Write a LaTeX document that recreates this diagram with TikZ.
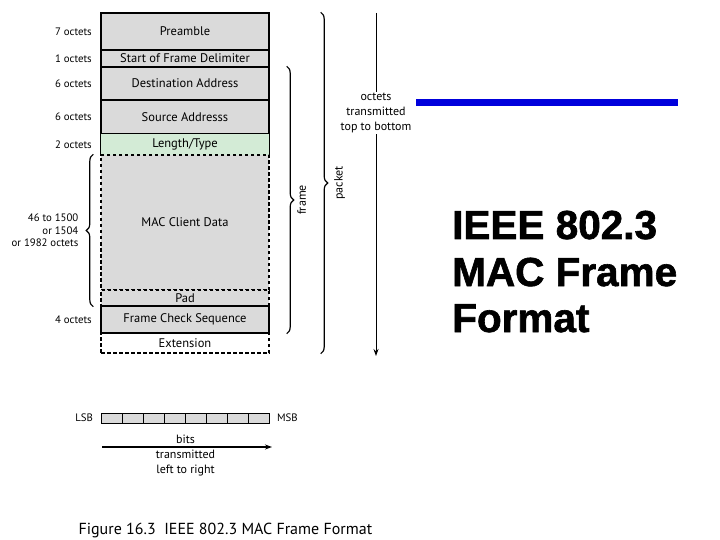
\documentclass[tikz,border=0pt]{standalone}
\usepackage{fontspec}
\setmainfont{PT Sans}
\newfontfamily\titlefont{Liberation Sans Bold}[FakeBold=1.5]
\usetikzlibrary{positioning,decorations.pathreplacing,arrows.meta}
\definecolor{fieldgray}{RGB}{218,218,218}
\definecolor{fieldgreen}{RGB}{211,235,214}
\definecolor{titleblue}{RGB}{0,0,220}
\begin{document}
\begin{tikzpicture}[x=1pt, y=-1pt,
  field/.style={draw, line width=1.4pt, fill=fieldgray, minimum width=168pt, inner sep=0pt, font=\fontsize{12.5}{14}\selectfont},
  dfield/.style={field, dash pattern=on 3.5pt off 2.5pt},
  octs/.style={font=\fontsize{10.8}{12.5}\selectfont, align=right},
  brc/.style={decorate, decoration={brace, amplitude=7pt}, line width=1.2pt},
  lbl/.style={font=\fontsize{12}{15}\selectfont, align=center, inner sep=1pt},
  bitcell/.style={draw, line width=1pt, fill=fieldgray, minimum width=21pt, minimum height=10pt, inner sep=0pt}]
\useasboundingbox[fill=white] (0,0) rectangle (720,540);

% frame fields
\node[field, minimum height=37pt] (pre) at (185,31.5) {Preamble};
\node[field, minimum height=17pt] (sfd) at (185,58.5) {Start of Frame Delimiter};
\node[field, minimum height=33pt] (da) at (185,83.5) {Destination Address};
\node[field, minimum height=34pt] (sa) at (185,117) {Source Addresss};
\node[field, draw=none, fill=fieldgreen, minimum height=21pt] (lt) at (185,144.5) {Length/Type};
\draw[line width=1.4pt] (lt.south west) -- (lt.north west) (lt.north east) -- (lt.south east);
\node[dfield, minimum height=135pt] (mcd) at (185,222.5) {MAC Client Data};
\node[dfield, minimum height=16pt] (pad) at (185,298) {Pad};
\node[field, minimum height=27pt] (fcs) at (185,319.5) {Frame Check Sequence};
\node[dfield, fill=none, minimum height=20pt] (ext) at (185,343) {Extension};

% octet counts
\node[octs, left=5pt of pre] (npre) {7 octets};
\node[octs, left=5pt of sfd] (nsfd) {1 octets};
\node[octs, left=5pt of da] (nda) {6 octets};
\node[octs, left=5pt of sa] (nsa) {6 octets};
\node[octs, left=5pt of lt] (nlt) {2 octets};
\node[octs, left=5pt of fcs] (nfcs) {4 octets};

% braces
\draw[brc] ([xshift=-7pt]pad.south west) -- ([xshift=-7pt]mcd.north west) node[midway, octs, anchor=east, xshift=-11pt] (ndata) {46 to 1500\\or 1504\\or 1982 octets};
\draw[brc] ([xshift=17pt]da.north east) -- ([xshift=17pt]fcs.south east) node[midway, lbl, rotate=90, anchor=north, yshift=-9pt] (frm) {frame};
\draw[brc] ([xshift=51pt]pre.north east) -- ([xshift=51pt]ext.south east) node[midway, lbl, rotate=90, anchor=north, yshift=-12pt] (pkt) {packet};

% transmission order
\coordinate (ttop) at (376,13);
\coordinate (tbot) at (376,356);
\node[lbl, fill=white] (tord) at (376,113) {octets\\transmitted\\top to bottom};
\draw[line width=1pt] (ttop) -- (tord);
\draw[line width=1pt, -{Stealth[length=7pt,width=5pt]}] (tord) -- (tbot);

% bit order
\foreach \i in {0,...,7}
  \node[bitcell] (b\i) at (111.5+21*\i,418) {};
\node[octs, left=4pt of b0] (lsb) {LSB};
\node[octs, right=4pt of b7] (msb) {MSB};
\coordinate (bl) at (102,447);
\coordinate (br) at (272,447);
\draw[line width=1.4pt, -{Stealth[length=7pt,width=5pt]}] (bl) -- (br);
\node[lbl, above=2pt of b3.south east |- bl] (bits) {bits};
\node[lbl, below=1.5pt of b3.south east |- bl] (bdir) {transmitted\\left to right};

% caption and title
\node[anchor=west, font=\fontsize{16}{19}\selectfont] (cap) at (75,530) {Figure 16.3\ \ IEEE 802.3 MAC Frame Format};
\draw[titleblue, line width=6.5pt] (416,102.5) -- (678,102.5);
\node[anchor=base west, inner sep=0pt, font=\titlefont\fontsize{40.5}{47}\selectfont] (t1) at (452,239) {IEEE 802.3};
\node[anchor=base west, inner sep=0pt, font=\titlefont\fontsize{40.5}{47}\selectfont] (t2) at (452,286) {MAC Frame};
\node[anchor=base west, inner sep=0pt, font=\titlefont\fontsize{40.5}{47}\selectfont] (t3) at (452,332) {Format};
\end{tikzpicture}
\end{document}
